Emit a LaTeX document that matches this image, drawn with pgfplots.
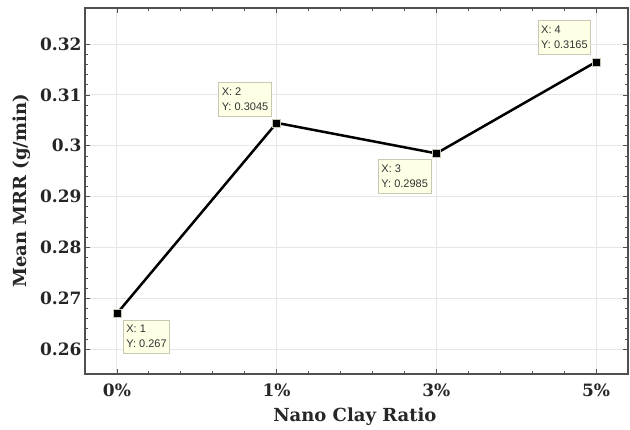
\documentclass[border=0pt]{standalone}
\usepackage{pgfplots}
\pgfplotsset{compat=1.18}
\usepackage{fontspec}
\setmainfont{DejaVu Serif}
\newfontfamily\tipfont{Liberation Sans}
\definecolor{tipfill}{HTML}{FFFFE6}
\definecolor{tipdraw}{HTML}{C8C8B4}
\definecolor{gridc}{HTML}{E6E6E6}
\definecolor{axc}{HTML}{505050}
\begin{document}
\begin{tikzpicture}[x=1pt,y=1pt]
\begin{axis}[
  at={(0,0)}, anchor=south west,
  scale only axis, width=543pt, height=366pt,
  xmin=0.8, xmax=4.2, ymin=0.2551, ymax=0.3271,
  xtick={1,2,3,4}, xticklabels={0\%,1\%,3\%,5\%},
  ytick={0.26,0.27,0.28,0.29,0.30,0.31,0.32},
  yticklabels={0.26,0.27,0.28,0.29,0.3,0.31,0.32},
  minor x tick num=4, minor y tick num=4,
  major tick length=5pt, minor tick length=3pt,
  tick align=inside,
  grid=major,
  major grid style={gridc, line width=1pt},
  axis line style={axc, line width=1.2pt},
  every tick/.style={axc, line width=0.8pt},
  ticklabel style={font=\bfseries\fontsize{17}{17}\selectfont, text=black!85},
  xticklabel style={yshift=-6pt},
  xlabel={Nano Clay Ratio},
  ylabel={Mean MRR (g/min)},
  xlabel style={font=\bfseries\fontsize{18}{18}\selectfont, text=black!85, at={(axis description cs:0.497,-0.131)}, anchor=base},
  ylabel style={font=\bfseries\fontsize{18}{18}\selectfont, text=black!85, at={(axis description cs:-0.116,0.5)}, anchor=center},
]
\addplot[black, line width=2.5pt, mark=square*, mark size=4pt,
  mark options={fill=black, draw=tipdraw, line width=0.6pt}]
  coordinates {(1,0.267) (2,0.3045) (3,0.2985) (4,0.3165)};
\begin{scope}[every node/.style={draw=tipdraw, fill=tipfill, line width=0.8pt, align=left,
   font=\tipfont\fontsize{11}{15}\selectfont, text=black!80, inner xsep=3pt, inner ysep=5.5pt}]
\node[anchor=north west, xshift=6pt, yshift=-6pt] at (axis cs:1,0.267) {X: 1\\Y: 0.267};
\node[anchor=south east, xshift=-5pt, yshift=6pt] at (axis cs:2,0.3045) {X: 2\\Y: 0.3045};
\node[anchor=north east, xshift=-5pt, yshift=-6pt] at (axis cs:3,0.2985) {X: 3\\Y: 0.2985};
\node[anchor=south east, xshift=-5pt, yshift=7pt] at (axis cs:4,0.3165) {X: 4\\Y: 0.3165};
\end{scope}
\end{axis}
\path[use as bounding box] (-85,-53) rectangle (545,374);
\end{tikzpicture}
\end{document}
